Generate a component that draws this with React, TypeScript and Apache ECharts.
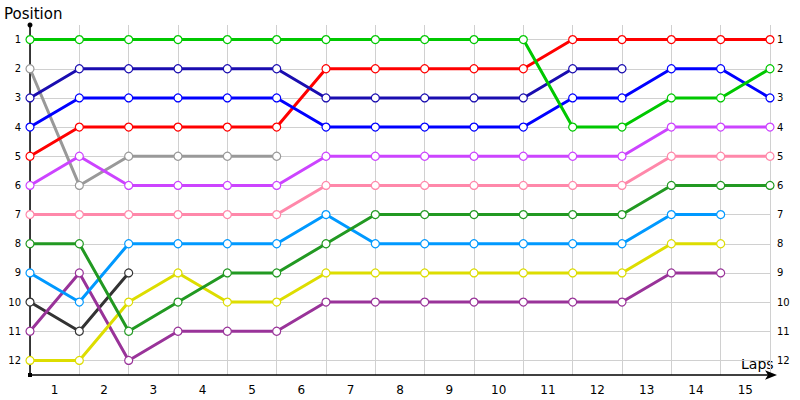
import React, { useEffect, useRef } from "react";
import * as echarts from "echarts";

const lapLabels = ["1", "2", "3", "4", "5", "6", "7", "8", "9", "10", "11", "12", "13", "14", "15"];
const positionTicks = [1, 2, 3, 4, 5, 6, 7, 8, 9, 10, 11, 12];

const green = [1, 1, 1, 1, 1, 1, 1, 1, 1, 1, 1, 4, 4, 3, 3, 2];
const navy = [3, 2, 2, 2, 2, 2, 3, 3, 3, 3, 3, 2, 2];
const blue = [4, 3, 3, 3, 3, 3, 4, 4, 4, 4, 4, 3, 3, 2, 2, 3];
const red = [5, 4, 4, 4, 4, 4, 2, 2, 2, 2, 2, 1, 1, 1, 1, 1];
const gray = [2, 6, 5, 5, 5, 5];
const violet = [6, 5, 6, 6, 6, 6, 5, 5, 5, 5, 5, 5, 5, 4, 4, 4];
const pink = [7, 7, 7, 7, 7, 7, 6, 6, 6, 6, 6, 6, 6, 5, 5, 5];
const darkGreen = [8, 8, 11, 10, 9, 9, 8, 7, 7, 7, 7, 7, 7, 6, 6, 6];
const lightBlue = [9, 10, 8, 8, 8, 8, 7, 8, 8, 8, 8, 8, 8, 7, 7];
const black = [10, 11, 9];
const purple = [11, 9, 12, 11, 11, 11, 10, 10, 10, 10, 10, 10, 10, 9, 9];
const yellow = [12, 12, 10, 9, 10, 10, 9, 9, 9, 9, 9, 9, 9, 8, 8];

const seriesDefs: { name: string; values: number[]; color: string }[] = [
  { name: "A", values: gray, color: "#999999" },
  { name: "B", values: black, color: "#333333" },
  { name: "C", values: purple, color: "#993399" },
  { name: "D", values: yellow, color: "#dddd00" },
  { name: "E", values: lightBlue, color: "#0099ff" },
  { name: "F", values: darkGreen, color: "#229922" },
  { name: "G", values: pink, color: "#ff88aa" },
  { name: "H", values: violet, color: "#cc44ff" },
  { name: "I", values: red, color: "#ff0000" },
  { name: "J", values: blue, color: "#0000ff" },
  { name: "K", values: navy, color: "#1a0db0" },
  { name: "L", values: green, color: "#00c800" },
];

const FONT = "DejaVu Sans";

export default function App() {
  const ref = useRef<HTMLDivElement>(null);
  useEffect(() => {
    if (!ref.current) return;
    const chart = echarts.init(ref.current, null, { renderer: "svg" });
    chart.setOption({
      animation: false,
      backgroundColor: "#ffffff",
      grid: { left: 30, right: 30, top: 25, bottom: 25, containLabel: false },
      xAxis: [
        {
          type: "category",
          data: lapLabels,
          boundaryGap: true,
          position: "bottom",
          axisLine: {
            show: true,
            lineStyle: { color: "#000", width: 1.5 },
            symbol: ["none", "arrow"],
            symbolSize: [7, 12],
            symbolOffset: [0, 7],
          },
          axisTick: { show: false },
          axisLabel: { color: "#000", fontSize: 12, fontFamily: FONT, margin: 9 },
          splitLine: { show: true, lineStyle: { color: "#d0d0d0", width: 1 } },
        },
        { type: "value", min: 0, max: 15, show: false },
      ],
      yAxis: [
        {
          type: "value",
          min: 0.5,
          max: 12.5,
          inverse: true,
          position: "left",
          axisLine: { show: true, lineStyle: { color: "#000", width: 1.5 } },
          axisTick: { show: false, customValues: positionTicks },
          axisLabel: { color: "#000", fontSize: 10, fontFamily: FONT, margin: 9, customValues: positionTicks },
          splitLine: { show: true, lineStyle: { color: "#d0d0d0", width: 1 } },
        },
        {
          type: "value",
          min: 0.5,
          max: 12.5,
          inverse: true,
          position: "right",
          axisLine: { show: false },
          axisTick: { show: false, customValues: positionTicks },
          axisLabel: { color: "#000", fontSize: 10, fontFamily: FONT, margin: 7, customValues: positionTicks },
          splitLine: { show: false },
        },
      ],
      graphic: [
        { type: "circle", shape: { cx: 30, cy: 25, r: 2.5 }, style: { fill: "#000" }, z: 100 },
        { type: "rect", shape: { x: 28, y: 373, width: 4, height: 4 }, style: { fill: "#000" }, z: 100 },
        { type: "text", left: 4, top: 6, style: { text: "Position", fontSize: 15, fontFamily: FONT, fill: "#000" } },
        { type: "text", left: 741, top: 357, style: { text: "Laps", fontSize: 14, fontFamily: FONT, fill: "#000" } },
      ],
      series: seriesDefs.map((s) => ({
        name: s.name,
        type: "line",
        xAxisIndex: 1,
        yAxisIndex: 0,
        data: s.values.map((v, i) => [i, v]),
        symbol: "circle",
        symbolSize: 8,
        showSymbol: true,
        lineStyle: { color: s.color, width: 3 },
        itemStyle: { color: "#ffffff", borderColor: s.color, borderWidth: 1.2 },
        emphasis: { disabled: true },
      })),
    });
    return () => chart.dispose();
  }, []);
  return (
    <div
      ref={ref}
      style={{ position: "fixed", left: 0, top: 0, width: 800, height: 400, background: "#fff" }}
    />
  );
}
